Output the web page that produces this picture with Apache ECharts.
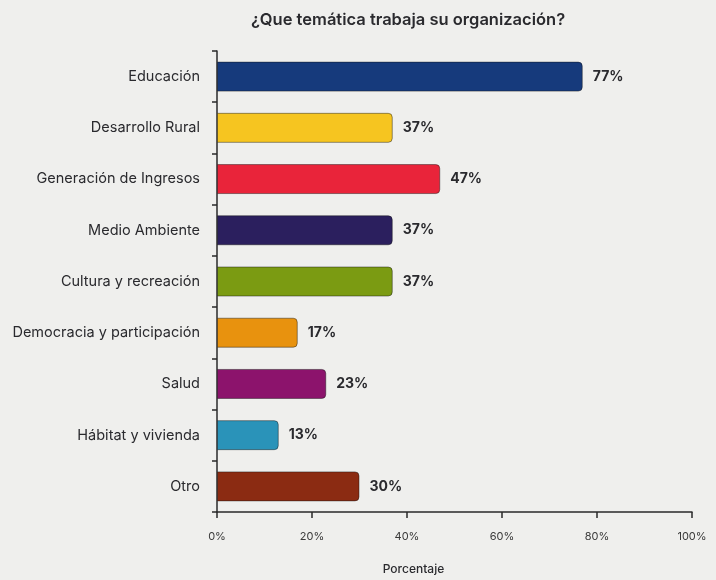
<!DOCTYPE html>
<html>
<head>
<meta charset="utf-8">
<script src="https://cdn.jsdelivr.net/npm/echarts@6/dist/echarts.min.js"></script>
<style>
  html, body { margin: 0; padding: 0; background: #efefed; }
  #chart { width: 716px; height: 580px; }
</style>
</head>
<body>
<div id="chart"></div>
<script>
// Themes, top to bottom as shown
const categories = [
  'Educación',
  'Desarrollo Rural',
  'Generación de Ingresos',
  'Medio Ambiente',
  'Cultura y recreación',
  'Democracia y participación',
  'Salud',
  'Hábitat y vivienda',
  'Otro'
];
// Share of organisations working on each theme (%)
const percentages = [77, 37, 47, 37, 37, 17, 23, 13, 30];
const barColors = [
  '#163a7c', '#f6c520', '#e9243a', '#2b1f5e', '#7b9b12',
  '#e8920e', '#8c136c', '#2a93b9', '#8b2b12'
];
const xTicks = [0, 20, 40, 60, 80, 100];

const chart = echarts.init(document.getElementById('chart'), null, { renderer: 'canvas' });
const font = 'Inter, "Noto Sans", sans-serif';

chart.setOption({
  backgroundColor: '#efefed',
  animation: false,
  title: {
    text: '¿Que temática trabaja su organización?',
    left: 403,
    top: 7,
    textAlign: 'center',
    textStyle: { fontFamily: font, fontSize: 16.5, fontWeight: 600, color: '#2a2a2e' }
  },
  grid: { left: 217, right: 24, top: 51, bottom: 67, containLabel: false },
  xAxis: {
    type: 'value',
    min: xTicks[0],
    max: xTicks[xTicks.length - 1],
    interval: 20,
    name: 'Porcentaje',
    nameLocation: 'middle',
    nameGap: 51,
    nameTextStyle: { fontFamily: font, fontSize: 12, fontWeight: 500, color: '#2a2a2e', padding: [0, 82, 0, 0] },
    axisLine: { show: true, lineStyle: { color: '#2a2a2a', width: 1.5 } },
    axisTick: { show: true, length: 6, lineStyle: { color: '#2a2a2a', width: 1.5 } },
    splitLine: { show: false },
    axisLabel: {
      margin: 19,
      fontFamily: font, fontSize: 11, color: '#3a3a3a',
      formatter: v => v + '%'
    }
  },
  yAxis: {
    type: 'category',
    data: categories,
    inverse: true,
    axisLine: { show: true, lineStyle: { color: '#2a2a2a', width: 1.5 } },
    axisTick: { show: true, length: 5, lineStyle: { color: '#2a2a2a', width: 1.5 } },
    axisLabel: { margin: 17, fontFamily: font, fontSize: 14.5, color: '#2a2a2e' }
  },
  series: [{
    type: 'bar',
    data: percentages.map((v, i) => ({
      value: v,
      itemStyle: { color: barColors[i] }
    })),
    barWidth: 30,
    itemStyle: {
      borderColor: 'rgba(20,20,20,0.45)',
      borderWidth: 1,
      borderRadius: [0, 4, 4, 0]
    },
    label: {
      show: true,
      position: 'right',
      distance: 10,
      fontFamily: font,
      fontSize: 14,
      fontWeight: 700,
      color: '#2a2a2e',
      formatter: p => p.value + '%'
    }
  }]
});
</script>
</body>
</html>
